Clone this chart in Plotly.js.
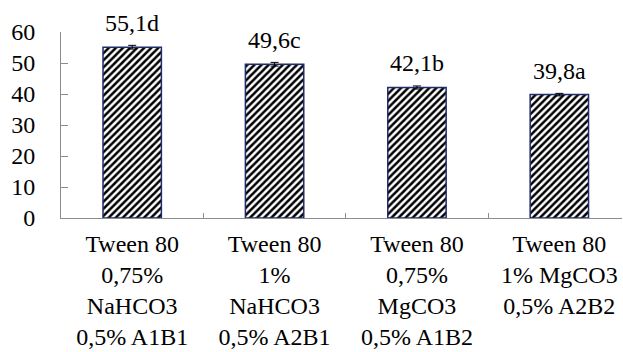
<!DOCTYPE html>
<html>
<head>
<meta charset="utf-8">
<script src="https://cdn.plot.ly/plotly-3.0.1.min.js"></script>
<style>html,body{margin:0;padding:0;background:#fff;}#chart{width:623px;height:352px;}</style>
</head>
<body>
<div id="chart"></div>
<script>
const categories = [
  "Tween 80<br>0,75%<br>NaHCO3<br>0,5% A1B1",
  "Tween 80<br>1%<br>NaHCO3<br>0,5% A2B1",
  "Tween 80<br>0,75%<br>MgCO3<br>0,5% A1B2",
  "Tween 80<br>1% MgCO3<br>0,5% A2B2"
];
const values = [55.1, 49.6, 42.1, 39.8];
const errors = [0.6, 0.6, 0.5, 0.4];
const labels = ["55,1d", "49,6c", "42,1b", "39,8a"];

function mkFont(size) { return {family: "Liberation Serif", size: size, color: "#000"}; }

const trace = {
  type: "bar",
  x: categories,
  y: values,
  width: 0.41,
  marker: {
    color: "#fff",
    line: {color: "#1f2d6b", width: 1.5},
    pattern: {shape: "/", fgcolor: "#000", bgcolor: "#fff", size: 5, solidity: 0.5}
  },
  error_y: {type: "data", array: errors, visible: true, color: "#000", thickness: 1, width: 4},
  hoverinfo: "none"
};

const annotations = categories.map((c, i) => ({
  x: c, y: values[i], xref: "x", yref: "y",
  text: labels[i], showarrow: false, yanchor: "bottom", yshift: 9,
  font: mkFont(24)
}));

const layout = {
  width: 623, height: 352,
  margin: {l: 61, r: 1, t: 32, b: 134},
  paper_bgcolor: "#fff", plot_bgcolor: "#fff",
  showlegend: false,
  font: mkFont(24),
  xaxis: {
    range: [-0.5, 3.44],
    showline: true, linecolor: "#8c8c8c", linewidth: 1,
    ticks: "inside", tickson: "boundaries", ticklen: 5, tickcolor: "#8c8c8c",
    ticklabelstandoff: 4,
    showgrid: false, zeroline: false, tickfont: mkFont(24), automargin: false
  },
  yaxis: {
    range: [0, 60], dtick: 10,
    showline: true, linecolor: "#8c8c8c", linewidth: 1,
    ticks: "inside", ticklen: 7, tickcolor: "#8c8c8c",
    ticklabelstandoff: 20,
    showgrid: false, zeroline: false, tickfont: mkFont(24), automargin: false
  },
  annotations: annotations
};

Plotly.newPlot("chart", [trace], layout, {staticPlot: true, displayModeBar: false});
</script>
</body>
</html>
